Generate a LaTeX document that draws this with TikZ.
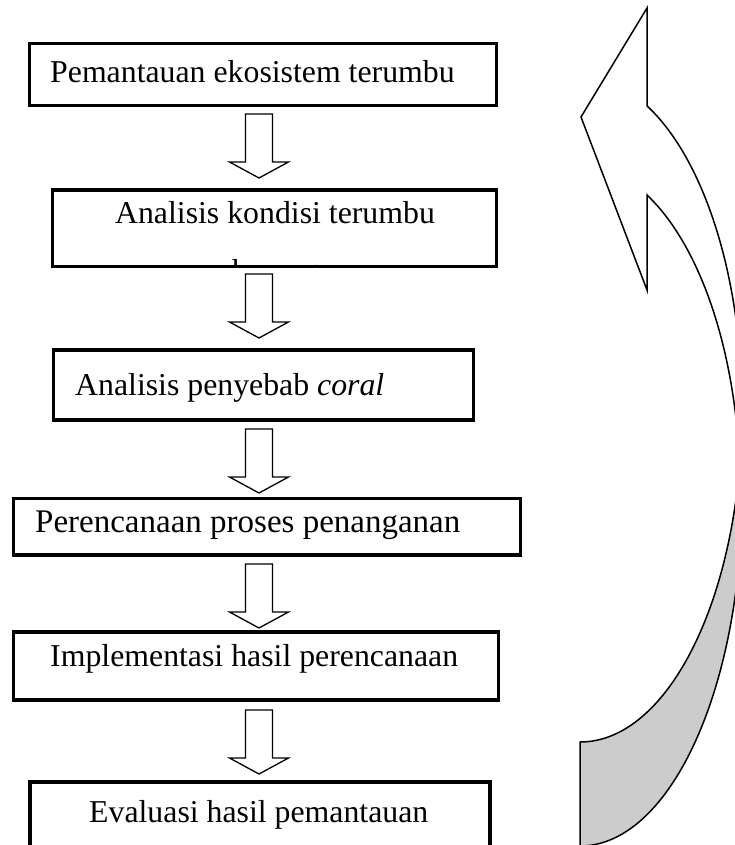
\documentclass[tikz,border=0pt]{standalone}
\usepackage{fontspec}
\setmainfont{Liberation Serif}
\usetikzlibrary{calc}
\definecolor{shade}{RGB}{204,204,204}
\begin{document}
\begin{tikzpicture}[x=1pt,y=-1pt,
  box/.style={draw=black, line width=3.6pt, inner sep=0pt, outer sep=0pt, anchor=north west, fill=white},
  lbl/.style={anchor=base west, inner sep=0pt, font=\fontsize{31.8}{38}\selectfont},
  blk/.style={draw=black, line width=1.3pt, fill=white, line join=miter},
  big/.style={draw=black, line width=1.5pt, line join=miter},
  downarr/.pic={\draw[blk] (-13.5,0) -- (13.5,0) -- (13.5,48) -- (29.5,48) -- (0,64) -- (-29.5,48) -- (-13.5,48) -- cycle;}
]
\useasboundingbox (0,0) rectangle (735,845);
\begin{scope}
\clip (0,0) rectangle (735,845);

% big curved arrow (back part, shaded)
\draw[big, fill=shade] (742,409) arc[start angle=0, end angle=90, x radius=162, y radius=333]
  -- (580,846) arc[start angle=90, end angle=0, x radius=162, y radius=351] -- cycle;
% big curved arrow (front part with head)
\draw[big, fill=white] (647,105.8) -- (647,8) -- (581,117) -- (647,290) -- (647,195)
  arc[start angle=-64.8, end angle=0, x radius=162, y radius=327]
  -- (742,409) arc[start angle=0, end angle=-65.57, x radius=162, y radius=333] -- cycle;

% boxes
\node[box, minimum width=467pt, minimum height=62pt] (b1) at (29.5,43.5) {};
\node[box, minimum width=444pt, minimum height=76.5pt] (b2) at (52.5,190) {};
\node[box, minimum width=420pt, minimum height=70pt] (b3) at (53.5,350) {};
\node[box, minimum width=507pt, minimum height=56.5pt] (b4) at (13.5,498.5) {};
\node[box, minimum width=485pt, minimum height=68pt] (b5) at (13.5,632) {};
\node[box, minimum width=460pt, minimum height=100pt] (b6) at (30,782) {};

% texts
\node[lbl] (t1) at (50,83) {Pemantauan ekosistem terumbu};
\node[lbl, anchor=base] (t2) at (275,223) {Analisis kondisi terumbu};
\begin{scope}
\clip (b2.north west) rectangle (b2.south east);
\node[lbl, anchor=base] (t2b) at (275,281) {karang};
\end{scope}
\node[lbl] (t3) at (75,395) {Analisis penyebab \textit{coral}};
\node[lbl, font=\fontsize{33}{40}\selectfont] (t4) at (35,532) {Perencanaan proses penanganan};
\node[lbl] (t5) at (50,666) {Implementasi hasil perencanaan};
\node[lbl] (t6) at (89,822) {Evaluasi hasil pemantauan};

% redraw box border over clipped text
\draw[line width=3.6pt] (b2.north west) rectangle (b2.south east);

% hollow down arrows between boxes
\pic (a1) at (259,114) {downarr};
\pic (a2) at (259,274) {downarr};
\pic (a3) at (259,429) {downarr};
\pic (a4) at (259,564) {downarr};
\pic (a5) at (259,710) {downarr};
\end{scope}
\end{tikzpicture}
\end{document}
